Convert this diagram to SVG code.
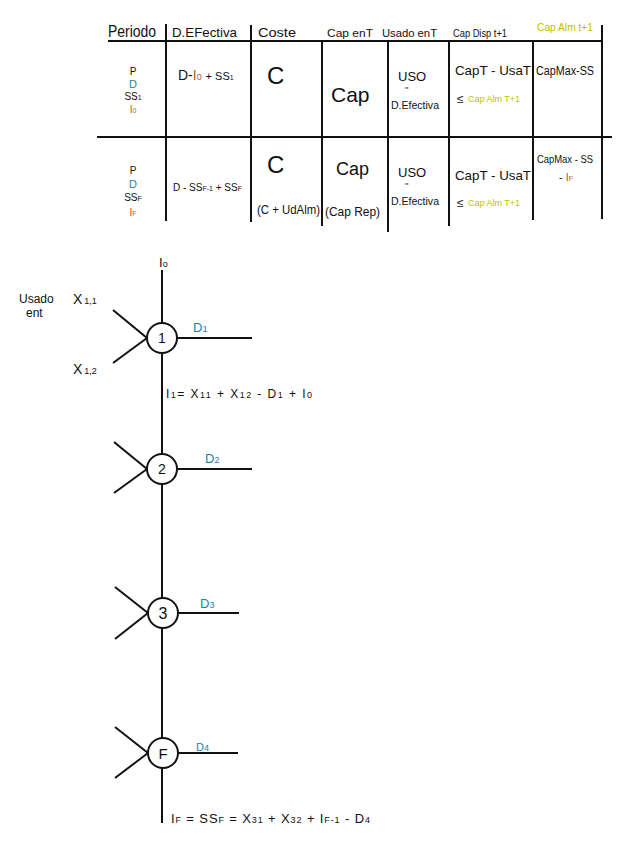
<svg xmlns="http://www.w3.org/2000/svg" width="624" height="848" viewBox="0 0 624 848">
<style>
text{font-family:"Liberation Sans","DejaVu Sans",sans-serif;fill:#111}
.s{font-size:10px}
.b{fill:#1f7fa6}
.o{fill:#b0601c}
.y{fill:#c2c000}
.sub{font-size:7px}
.sb{font-size:9px}
.ln{stroke:#111;stroke-width:2;fill:none}
.nd{stroke:#111;stroke-width:2;fill:#fff}
</style>
<rect width="624" height="848" fill="#fff"/>
<g id="table">
<g class="ln">
<line x1="108" y1="41" x2="603" y2="41"/>
<line x1="97" y1="137" x2="612" y2="137"/>
<line x1="166" y1="24" x2="166" y2="221"/>
<line x1="251" y1="25" x2="251" y2="222"/>
<line x1="322" y1="41" x2="322" y2="226"/>
<line x1="388" y1="41" x2="388" y2="232"/>
<line x1="449" y1="41" x2="449" y2="226"/>
<line x1="533" y1="41" x2="533" y2="220"/>
<line x1="602" y1="25" x2="602" y2="219"/>
</g>
<text x="108" y="37" font-size="16" textLength="48" lengthAdjust="spacingAndGlyphs">Periodo</text>
<text x="172" y="37" font-size="13" textLength="65" lengthAdjust="spacingAndGlyphs">D.EFectiva</text>
<text x="258" y="37" font-size="13" textLength="38" lengthAdjust="spacingAndGlyphs">Coste</text>
<text x="327" y="37" font-size="11" textLength="46" lengthAdjust="spacingAndGlyphs">Cap enT</text>
<text x="382" y="37" font-size="11" textLength="55" lengthAdjust="spacingAndGlyphs">Usado enT</text>
<text x="453" y="37" font-size="11" textLength="54" lengthAdjust="spacingAndGlyphs">Cap Disp t+1</text>
<text x="537" y="31" font-size="10" class="y" textLength="56" lengthAdjust="spacingAndGlyphs">Cap Alm t+1</text>
<!-- row 1 -->
<g text-anchor="middle">
<text x="133" y="75" class="s">P</text>
<text x="133" y="88" font-size="11" class="b">D</text>
<text x="133" y="100" class="s">SS<tspan class="sub">1</tspan></text>
<text x="133" y="113" class="s o">I<tspan class="sub">0</tspan></text>
</g>
<text x="178" y="80" font-size="14">D-<tspan class="o">I<tspan font-size="9">0</tspan></tspan> <tspan font-size="11">+ SS<tspan class="sub">1</tspan></tspan></text>
<text x="267" y="84" font-size="24">C</text>
<text x="331" y="102" font-size="21">Cap</text>
<text x="398" y="81" font-size="13">USO</text>
<text x="405" y="93" font-size="9">''</text>
<text x="391" y="109" font-size="10" textLength="48" lengthAdjust="spacingAndGlyphs">D.Efectiva</text>
<text x="455" y="75" font-size="13" textLength="76" lengthAdjust="spacingAndGlyphs">CapT - UsaT</text>
<text x="457" y="103" font-size="12">≤</text><text x="468" y="102" font-size="9.5" class="y" textLength="52" lengthAdjust="spacingAndGlyphs">Cap Alm T+1</text>
<text x="536" y="75" font-size="12" textLength="58" lengthAdjust="spacingAndGlyphs">CapMax-SS</text>
<!-- row 2 -->
<g text-anchor="middle">
<text x="133" y="174" class="s">P</text>
<text x="133" y="188" font-size="11" class="b">D</text>
<text x="133" y="201" class="s">SS<tspan class="sub">F</tspan></text>
<text x="133" y="216" class="s o">I<tspan class="sub">F</tspan></text>
</g>
<text x="173" y="191" font-size="10">D - SS<tspan class="sub">F-1</tspan> + SS<tspan class="sub">F</tspan></text>
<text x="267" y="173" font-size="24">C</text>
<text x="257" y="214" font-size="12" textLength="63" lengthAdjust="spacingAndGlyphs">(C + UdAlm)</text>
<text x="336" y="175" font-size="18">Cap</text>
<text x="325" y="216" font-size="12" textLength="55" lengthAdjust="spacingAndGlyphs">(Cap Rep)</text>
<text x="398" y="177" font-size="13">USO</text>
<text x="405" y="189" font-size="9">''</text>
<text x="391" y="205" font-size="10" textLength="48" lengthAdjust="spacingAndGlyphs">D.Efectiva</text>
<text x="455" y="180" font-size="13" textLength="76" lengthAdjust="spacingAndGlyphs">CapT - UsaT</text>
<text x="457" y="207" font-size="12">≤</text><text x="468" y="206" font-size="9.5" class="y" textLength="52" lengthAdjust="spacingAndGlyphs">Cap Alm T+1</text>
<text x="537" y="163" font-size="11" textLength="56" lengthAdjust="spacingAndGlyphs">CapMax - SS</text>
<text x="559" y="181" font-size="11">- <tspan class="o">I<tspan class="sub">F</tspan></tspan></text>
</g>
<g id="connectors" class="ln">
<line x1="162" y1="270" x2="162" y2="823"/>
<line x1="177" y1="338" x2="252" y2="338"/>
<line x1="113" y1="310" x2="147" y2="338"/>
<line x1="113" y1="363" x2="147" y2="338"/>
<line x1="177" y1="469" x2="252" y2="469"/>
<line x1="114" y1="442" x2="147" y2="469"/>
<line x1="114" y1="493" x2="147" y2="469"/>
<line x1="178" y1="613" x2="239" y2="613"/>
<line x1="115" y1="587" x2="148" y2="613"/>
<line x1="115" y1="639" x2="148" y2="613"/>
<line x1="178" y1="753" x2="238" y2="753"/>
<line x1="115" y1="727" x2="148" y2="753"/>
<line x1="115" y1="778" x2="148" y2="753"/>
</g>
<g id="n1"><circle class="nd" cx="162" cy="338" r="15"/><text x="162" y="343" font-size="14" text-anchor="middle">1</text></g>
<g id="n2"><circle class="nd" cx="162" cy="469" r="15"/><text x="162" y="474" font-size="14" text-anchor="middle">2</text></g>
<g id="n3"><circle class="nd" cx="163" cy="613" r="15"/><text x="163" y="619" font-size="16" text-anchor="middle">3</text></g>
<g id="nF"><circle class="nd" cx="163" cy="753" r="15"/><text x="163" y="759" font-size="15" text-anchor="middle">F</text></g>
<g id="labels">
<text x="159" y="267" font-size="13">I<tspan class="sb">o</tspan></text>
<text x="19" y="303" font-size="12">Usado</text>
<text x="26" y="317" font-size="12">ent</text>
<text x="73" y="304" font-size="14">X<tspan class="sb" dx="2">1,1</tspan></text>
<text x="73" y="374" font-size="14">X<tspan class="sb" dx="2">1,2</tspan></text>
<text x="193" y="332" font-size="13" class="b">D<tspan class="sb">1</tspan></text>
<text x="166" y="398" font-size="12" textLength="146" lengthAdjust="spacing">I<tspan class="sb">1</tspan>= X<tspan class="sb">11</tspan> + X<tspan class="sb">12</tspan> - D<tspan class="sb">1</tspan> + I<tspan class="sb">0</tspan></text>
<text x="205" y="463" font-size="13" class="b">D<tspan class="sb">2</tspan></text>
<text x="200" y="608" font-size="13" class="b">D<tspan class="sb">3</tspan></text>
<text x="196" y="751" font-size="11" class="b">D<tspan class="sb">4</tspan></text>
<text x="171" y="823" font-size="13" textLength="199" lengthAdjust="spacing">I<tspan class="sb">F</tspan> = SS<tspan class="sb">F</tspan> = X<tspan class="sb">31</tspan> + X<tspan class="sb">32</tspan> + I<tspan class="sb">F-1</tspan> - D<tspan class="sb">4</tspan></text>
</g>
</svg>
